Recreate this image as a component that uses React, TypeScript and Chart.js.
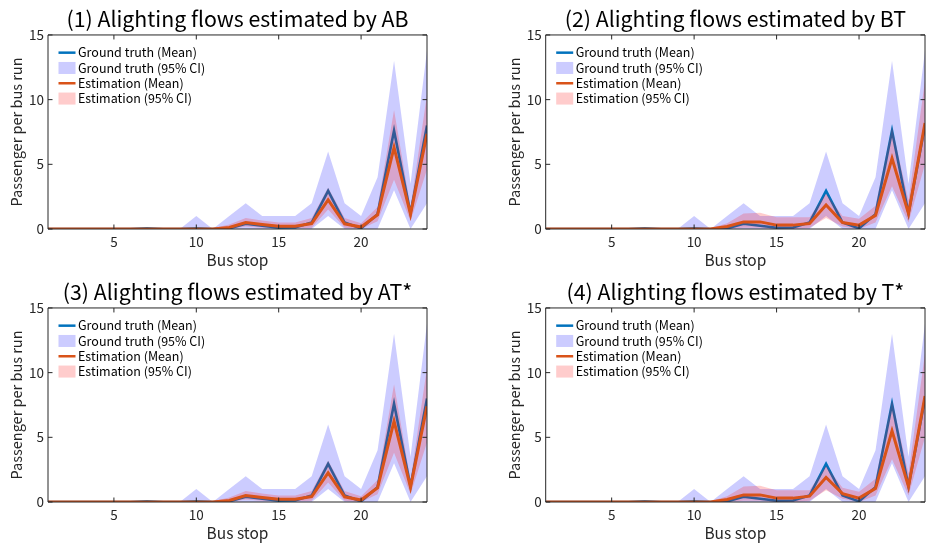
import React, { useEffect, useRef } from 'react';
import { Chart, registerables } from 'chart.js';

Chart.register(...registerables);

// ---------- data ----------
const STOPS = [1, 2, 3, 4, 5, 6, 7, 8, 9, 10, 11, 12, 13, 14, 15, 16, 17, 18, 19, 20, 21, 22, 23, 24];
const X_TICKS = [5, 10, 15, 20];
const Y_TICKS = [0, 5, 10, 15];

const TITLES = [
  '(1) Alighting flows estimated by AB',
  '(2) Alighting flows estimated by BT',
  '(3) Alighting flows estimated by AT*',
  '(4) Alighting flows estimated by T*',
];
const LEGEND_LABELS = ['Ground truth (Mean)', 'Ground truth (95% CI)', 'Estimation (Mean)', 'Estimation (95% CI)'];
const X_LABEL = 'Bus stop';
const Y_LABEL = 'Passenger per bus run';

// Ground truth (same in all panels)
const GT_MEAN = [0, 0, 0, 0, 0, 0, 0.05, 0, 0, 0.05, 0, 0.05, 0.4, 0.25, 0.1, 0.12, 0.5, 2.95, 0.5, 0.05, 1.15, 7.6, 1.2, 8.0];
const GT_UPPER = [0, 0, 0, 0, 0, 0, 0, 0, 0, 1.0, 0, 1.0, 2.0, 1.0, 1.0, 1.0, 2.0, 6.0, 2.0, 1.0, 4.0, 13.0, 3.5, 13.8];
const GT_LOWER = [0, 0, 0, 0, 0, 0, 0, 0, 0, 0, 0, 0, 0, 0, 0, 0, 0, 1.0, 0, 0, 0, 3.0, 0, 2.0];

// (1) AB
const AB_MEAN = [0, 0, 0, 0, 0, 0, 0, 0, 0, 0, 0, 0.12, 0.5, 0.35, 0.22, 0.22, 0.42, 2.25, 0.4, 0.15, 1.1, 6.3, 1.15, 7.35];
const AB_UPPER = [0.03, 0.03, 0.03, 0.03, 0.03, 0.03, 0.05, 0.05, 0.05, 0.05, 0.05, 0.35, 0.85, 0.65, 0.5, 0.5, 0.85, 3.2, 0.85, 0.45, 1.7, 9.2, 1.7, 10.4];
const AB_LOWER = [0, 0, 0, 0, 0, 0, 0, 0, 0, 0, 0, 0, 0.2, 0.1, 0.05, 0.05, 0.1, 1.5, 0.1, 0, 0.6, 3.8, 0.6, 4.6];

// (2) BT
const BT_MEAN = [0, 0, 0, 0, 0, 0, 0, 0, 0, 0, 0, 0.2, 0.55, 0.55, 0.3, 0.3, 0.42, 1.86, 0.5, 0.3, 1.05, 5.47, 1.2, 8.2];
const BT_UPPER = [0.03, 0.03, 0.03, 0.03, 0.03, 0.03, 0.05, 0.05, 0.05, 0.05, 0.05, 0.45, 1.2, 1.25, 0.9, 0.9, 0.9, 2.75, 1.0, 0.8, 1.8, 7.9, 2.2, 11.5];
const BT_LOWER = [0, 0, 0, 0, 0, 0, 0, 0, 0, 0, 0, 0, 0.1, 0.1, 0, 0, 0.1, 0.85, 0.2, 0, 0.5, 3.3, 0.5, 5.0];

// (3) AT*
const AT_MEAN = [0, 0, 0, 0, 0, 0, 0, 0, 0, 0, 0, 0.12, 0.5, 0.35, 0.22, 0.22, 0.42, 2.25, 0.4, 0.15, 1.1, 6.25, 1.15, 7.4];
const AT_UPPER = [0.03, 0.03, 0.03, 0.03, 0.03, 0.03, 0.05, 0.05, 0.05, 0.05, 0.05, 0.35, 0.85, 0.65, 0.5, 0.5, 0.85, 3.2, 0.85, 0.45, 1.7, 9.1, 1.7, 10.4];
const AT_LOWER = [0, 0, 0, 0, 0, 0, 0, 0, 0, 0, 0, 0, 0.2, 0.1, 0.05, 0.05, 0.1, 1.5, 0.1, 0, 0.6, 3.8, 0.6, 4.6];

// (4) T*
const T_MEAN = [0, 0, 0, 0, 0, 0, 0, 0, 0, 0, 0, 0.2, 0.55, 0.55, 0.3, 0.3, 0.45, 1.9, 0.65, 0.3, 1.05, 5.5, 1.2, 8.2];
const T_UPPER = [0.03, 0.03, 0.03, 0.03, 0.03, 0.03, 0.05, 0.05, 0.05, 0.05, 0.05, 0.45, 1.2, 1.25, 0.9, 0.9, 0.9, 2.8, 1.1, 0.8, 1.8, 7.9, 2.2, 11.5];
const T_LOWER = [0, 0, 0, 0, 0, 0, 0, 0, 0, 0, 0, 0, 0.1, 0.1, 0, 0, 0.1, 0.9, 0.25, 0, 0.5, 3.3, 0.5, 5.0];

const EST_MEANS = [AB_MEAN, BT_MEAN, AT_MEAN, T_MEAN];
const EST_UPPERS = [AB_UPPER, BT_UPPER, AT_UPPER, T_UPPER];
const EST_LOWERS = [AB_LOWER, BT_LOWER, AT_LOWER, T_LOWER];

// ---------- style ----------
const FONT = "'Noto Sans CJK JP', 'Noto Sans', sans-serif";
const AXIS_COLOR = '#262626';
const GT_LINE = '#0072BD';
const EST_LINE = '#D95319';
const GT_FILL = 'rgba(0,0,255,0.2)';
const EST_FILL = 'rgba(255,0,0,0.2)';
const GT_FILL_SOLID = 'rgb(204,204,255)';
const EST_FILL_SOLID = 'rgb(255,204,204)';

const W = 468;
const H = 273;

const pts = (ys: number[]) => STOPS.map((x, i) => ({ x, y: ys[i] }));

const framePlugin = {
  id: 'frame',
  afterDraw(chart: any) {
    const { ctx, chartArea } = chart;
    const { left, right, top, bottom } = chartArea;
    const xs = chart.scales.x;
    const ys = chart.scales.y;
    ctx.save();
    ctx.strokeStyle = AXIS_COLOR;
    ctx.lineWidth = 1;
    ctx.beginPath();
    ctx.rect(left, top, right - left, bottom - top);
    ctx.stroke();
    const tl = 4.5;
    ctx.beginPath();
    X_TICKS.forEach((v) => {
      const px = xs.getPixelForValue(v);
      ctx.moveTo(px, bottom);
      ctx.lineTo(px, bottom - tl);
      ctx.moveTo(px, top);
      ctx.lineTo(px, top + tl);
    });
    Y_TICKS.forEach((v) => {
      const py = ys.getPixelForValue(v);
      ctx.moveTo(left, py);
      ctx.lineTo(left + tl, py);
      ctx.moveTo(right, py);
      ctx.lineTo(right - tl, py);
    });
    ctx.stroke();

    // legend
    const lx = left + 10.5;
    const sw = 17;
    const rows = [17.7, 33, 48.3, 63.6];
    ctx.font = `12.5px ${FONT}`;
    ctx.textBaseline = 'middle';
    ctx.textAlign = 'left';
    rows.forEach((dy, i) => {
      const y = top + dy;
      if (i === 0 || i === 2) {
        ctx.strokeStyle = i === 0 ? GT_LINE : EST_LINE;
        ctx.lineWidth = 2.5;
        ctx.beginPath();
        ctx.moveTo(lx, y);
        ctx.lineTo(lx + sw, y);
        ctx.stroke();
      } else {
        ctx.fillStyle = i === 1 ? GT_FILL_SOLID : EST_FILL_SOLID;
        ctx.fillRect(lx, y - 6, sw, 12);
      }
      ctx.fillStyle = '#000';
      ctx.fillText(LEGEND_LABELS[i], lx + sw + 2.5, y);
    });
    ctx.restore();
  },
};

function Panel({ idx }: { idx: number }) {
  const ref = useRef<HTMLCanvasElement | null>(null);
  const col = idx % 2;
  const row = Math.floor(idx / 2);
  useEffect(() => {
    if (!ref.current) return;
    const padLeft = col === 0 ? 8 : 37.7;
    const padRight = col === 0 ? 41 : 11;
    const chart = new Chart(ref.current, {
      type: 'line',
      data: {
        datasets: [
          {
            label: 'GT upper',
            data: pts(GT_UPPER),
            borderWidth: 0,
            borderColor: 'rgba(0,0,0,0)',
            backgroundColor: GT_FILL,
            pointRadius: 0,
            fill: '+1',
            order: 6,
          },
          {
            label: 'GT lower',
            data: pts(GT_LOWER),
            borderWidth: 0,
            borderColor: 'rgba(0,0,0,0)',
            pointRadius: 0,
            fill: false,
            order: 5,
          },
          {
            label: LEGEND_LABELS[0],
            data: pts(GT_MEAN),
            borderWidth: 2.6,
            borderColor: GT_LINE,
            pointRadius: 0,
            fill: false,
            order: 4,
          },
          {
            label: 'Est upper',
            data: pts(EST_UPPERS[idx]),
            borderWidth: 0,
            borderColor: 'rgba(0,0,0,0)',
            backgroundColor: EST_FILL,
            pointRadius: 0,
            fill: '+1',
            order: 3,
          },
          {
            label: 'Est lower',
            data: pts(EST_LOWERS[idx]),
            borderWidth: 0,
            borderColor: 'rgba(0,0,0,0)',
            pointRadius: 0,
            fill: false,
            order: 2,
          },
          {
            label: LEGEND_LABELS[2],
            data: pts(EST_MEANS[idx]),
            borderWidth: 3,
            borderColor: EST_LINE,
            pointRadius: 0,
            fill: false,
            order: 1,
          },
        ],
      },
      options: {
        responsive: false,
        animation: false,
        devicePixelRatio: 1,
        layout: { padding: { left: padLeft, right: padRight, top: 0, bottom: 4 } },
        elements: { line: { tension: 0 } },
        plugins: {
          legend: { display: false },
          tooltip: { enabled: false },
          title: {
            display: true,
            text: TITLES[idx],
            fullSize: false,
            color: '#000',
            font: { family: FONT, size: 21.3, weight: 'normal', lineHeight: 1.2 },
            padding: { top: 6.6, bottom: 2.8 },
          },
        },
        scales: {
          x: {
            type: 'linear',
            min: 1,
            max: 24,
            grid: { display: false, drawTicks: false },
            border: { display: false },
            afterBuildTicks: (s: any) => {
              s.ticks = X_TICKS.map((v) => ({ value: v }));
            },
            afterFit: (s: any) => {
              s.height = 40;
            },
            ticks: {
              color: AXIS_COLOR,
              font: { family: FONT, size: 13.5 },
              padding: 5,
              maxRotation: 0,
              autoSkip: false,
            },
            title: {
              display: true,
              text: X_LABEL,
              color: AXIS_COLOR,
              font: { family: FONT, size: 15.5, lineHeight: 1.2 },
              padding: { top: 0, bottom: 0 },
            },
          },
          y: {
            type: 'linear',
            min: 0,
            max: 15,
            grid: { display: false, drawTicks: false },
            border: { display: false },
            afterBuildTicks: (s: any) => {
              s.ticks = Y_TICKS.map((v) => ({ value: v }));
            },
            afterFit: (s: any) => {
              s.width = 40;
            },
            ticks: {
              color: AXIS_COLOR,
              font: { family: FONT, size: 13.5 },
              padding: 4,
              autoSkip: false,
            },
            title: {
              display: true,
              text: Y_LABEL,
              color: AXIS_COLOR,
              font: { family: FONT, size: 14.5, lineHeight: 1.2 },
              padding: { top: 0, bottom: 0 },
            },
          },
        },
      },
      plugins: [framePlugin],
    } as any);
    return () => chart.destroy();
  }, [idx]);
  return (
    <canvas
      ref={ref}
      width={W}
      height={H}
      style={{ position: 'absolute', left: col * W, top: row * H, width: W, height: H }}
    />
  );
}

export default function App() {
  return (
    <div style={{ position: 'absolute', left: 0, top: 0, width: 936, height: 546, background: '#fff' }}>
      {[0, 1, 2, 3].map((i) => (
        <Panel key={i} idx={i} />
      ))}
    </div>
  );
}
